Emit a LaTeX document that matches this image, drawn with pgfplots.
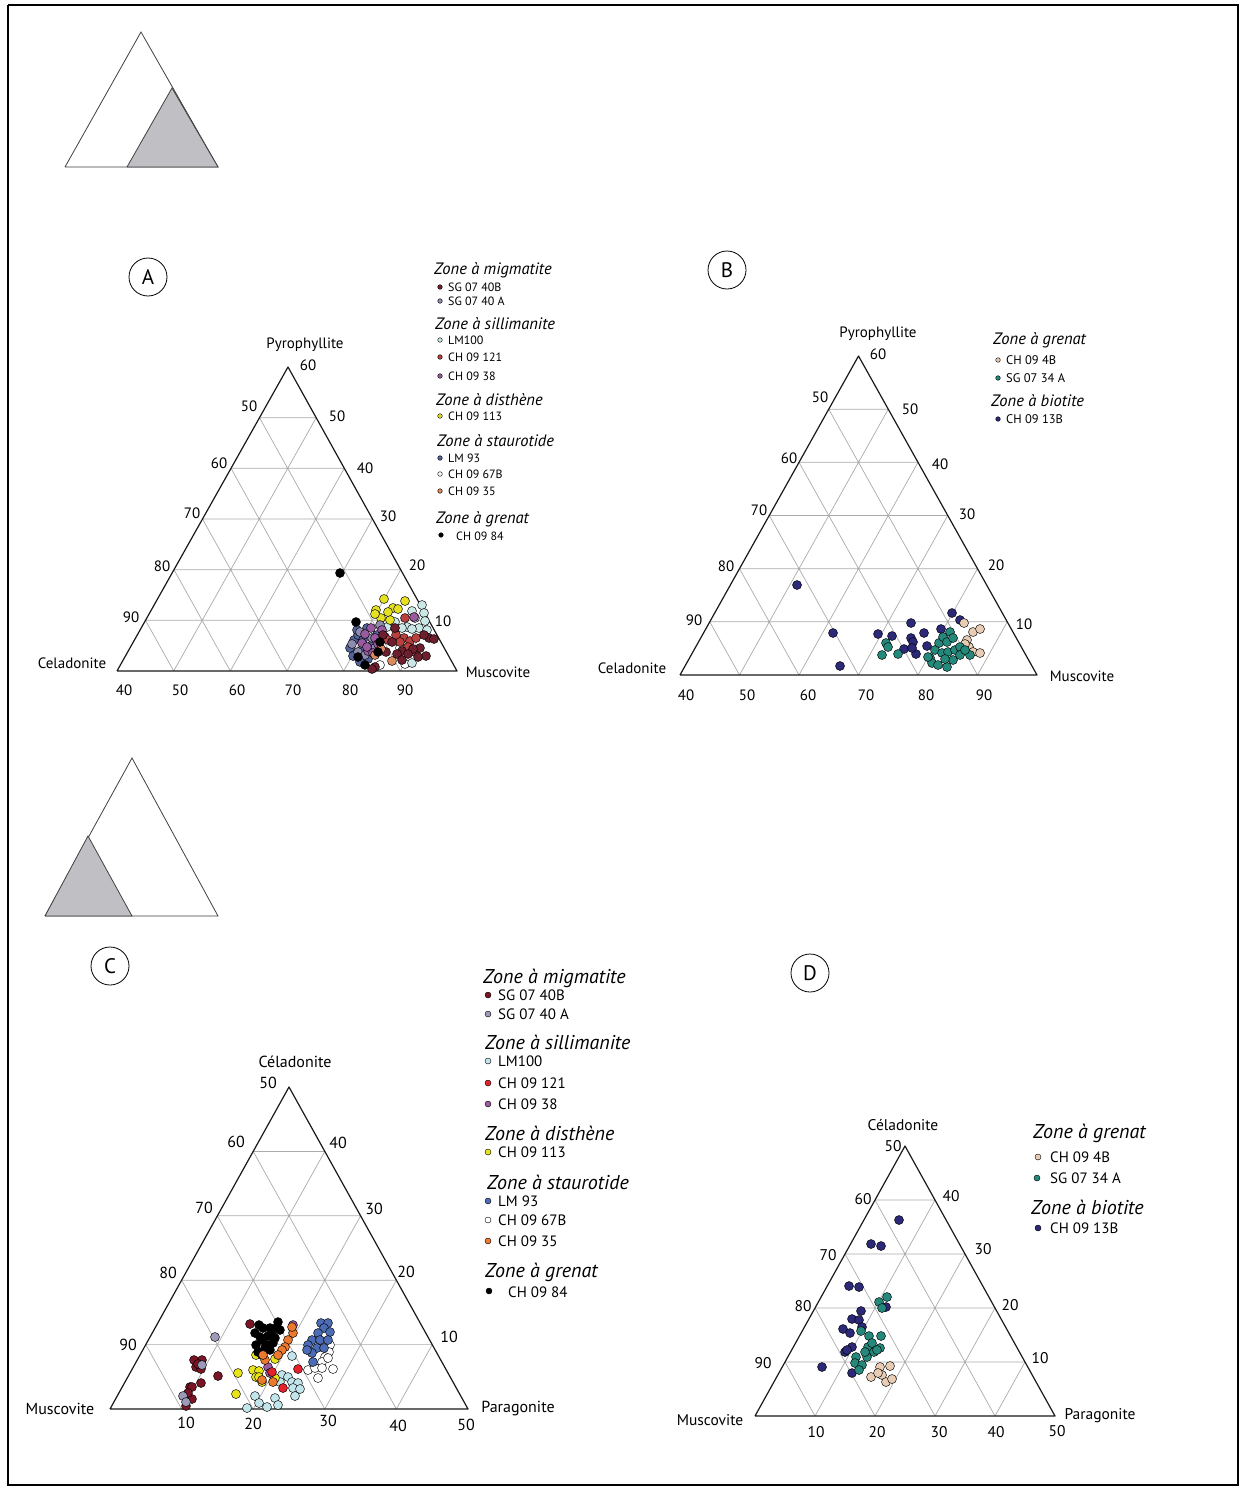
\documentclass[border=0pt]{standalone}
\usepackage{fontspec}
\setmainfont{PT Sans}
\usepackage{pgfplots}
\pgfplotsset{compat=1.18}
\newcommand\fs[1]{\fontsize{#1}{#1}\selectfont}
% panel A/C colours
\definecolor{mA}{HTML}{6E1F2E}
\definecolor{gA}{HTML}{8E8BAE}
\definecolor{cyA}{HTML}{CBE7E6}
\definecolor{rA}{HTML}{B8413F}
\definecolor{pA}{HTML}{9A5AA0}
\definecolor{yA}{HTML}{E5E022}
\definecolor{bA}{HTML}{55639C}
\definecolor{oA}{HTML}{D98A5E}
\definecolor{mC}{HTML}{7A1525}
\definecolor{gC}{HTML}{9C9AB8}
\definecolor{cyC}{HTML}{C2E5EC}
\definecolor{rC}{HTML}{E3222D}
\definecolor{pC}{HTML}{9B5B9C}
\definecolor{yC}{HTML}{E9E41A}
\definecolor{bC}{HTML}{4D6CB6}
\definecolor{oC}{HTML}{EC7A2E}
\definecolor{beige}{HTML}{E8CDB4}
\definecolor{teal2}{HTML}{24897B}
\definecolor{navy2}{HTML}{2C2978}
\definecolor{gridc}{HTML}{ABABAB}
\definecolor{iconc}{HTML}{C0C0C4}
\pgfplotsset{
  dot/.style={only marks, mark=*, mark size=4.5pt, mark options={draw=black, line width=0.45pt, fill=#1}},
  ldot/.style={only marks, mark=*, mark size=#1, mark options={draw=black, line width=0.3pt}},
  tgrid/.style={draw=gridc, line width=0.7pt},
  tri/.style={draw=black!90, line width=1.2pt, line join=round},
}
\begin{document}
\begin{tikzpicture}
\begin{axis}[
  x=1pt, y=1pt, y dir=reverse,
  xmin=0, xmax=1246, ymin=0, ymax=1488,
  hide axis, clip=false, unbounded coords=jump,
]
\addplot[draw=none, fill=white] coordinates {(0,0)(1246,0)(1246,1488)(0,1488)(0,0)};
% frame
\addplot[draw=black, line width=2pt] coordinates {(8,5)(1238,5)(1238,1485)(8,1485)(8,5)};
% icons
\addplot[draw=black!75, fill=white, line width=0.8pt] coordinates {(65,167)(218,167)(141,32)(65,167)};
\addplot[draw=black!75, fill=iconc, line width=0.8pt] coordinates {(127,167)(218,167)(172,88)(127,167)};
\addplot[draw=black!75, fill=white, line width=0.8pt] coordinates {(45,916)(218,916)(132,758)(45,916)};
\addplot[draw=black!75, fill=iconc, line width=0.8pt] coordinates {(45,916)(132,916)(88,836)(45,916)};
% circled letters
\node[draw, circle, minimum size=38pt, inner sep=0pt, line width=0.8pt, font=\fs{21}] at (axis cs:148,277) {A};
\node[draw, circle, minimum size=38pt, inner sep=0pt, line width=0.8pt, font=\fs{21}] at (axis cs:727,270) {B};
\node[draw, circle, minimum size=38pt, inner sep=0pt, line width=0.8pt, font=\fs{21}] at (axis cs:110,966) {C};
\node[draw, circle, minimum size=38pt, inner sep=0pt, line width=0.8pt, font=\fs{21}] at (axis cs:810,973) {D};

%================ PANEL A =================
\addplot[tgrid] coordinates {
(145.5,620.3)(428.8,620.3) (nan,nan)
(174,569.7)(400.7,569.7) (nan,nan)
(202.5,519)(372.5,519) (nan,nan)
(231,468.3)(344.3,468.3) (nan,nan)
(259.5,417.7)(316.2,417.7) (nan,nan)
(173.7,671)(316.2,417.7) (nan,nan)
(230.3,671)(344.3,468.3) (nan,nan)
(287,671)(372.5,519) (nan,nan)
(343.7,671)(400.7,569.7) (nan,nan)
(400.3,671)(428.8,620.3) (nan,nan)
(400.3,671)(259.5,417.7) (nan,nan)
(343.7,671)(231,468.3) (nan,nan)
(287,671)(202.5,519) (nan,nan)
(230.3,671)(174,569.7) (nan,nan)
(173.7,671)(145.5,620.3)
};
\addplot[tri] coordinates {(117,671)(457,671)(288,367)(117,671)};
\begin{scope}[every node/.style={font=\fs{15}}]
\node at (axis cs:305,345) {Pyrophyllite};
\node at (axis cs:308,365) {60};
\node at (axis cs:249,406) {50};
\node at (axis cs:219,463) {60};
\node at (axis cs:192,513) {70};
\node at (axis cs:162,566) {80};
\node at (axis cs:131,617) {90};
\node at (axis cs:337,416) {50};
\node at (axis cs:365,468) {40};
\node at (axis cs:388,516) {30};
\node at (axis cs:417,565) {20};
\node at (axis cs:443,621) {10};
\node at (axis cs:124,690) {40};
\node at (axis cs:180,690) {50};
\node at (axis cs:237,690) {60};
\node at (axis cs:293,690) {70};
\node at (axis cs:350,690) {80};
\node at (axis cs:405,690) {90};
\node at (axis cs:72,663) {Celadonite};
\node at (axis cs:498,672) {Muscovite};
\end{scope}
% data A
\addplot[dot=white] coordinates {(380,665)(405,664)(400,648)};
\addplot[dot=cyA] coordinates {(412,611)(422,605)(424,613)(415,618)(425,621)(419,628)(407,627)(412,629)(427,630)(387,627)(395,622)(412,663)(402,628)};
\addplot[dot=yA] coordinates {(384,599)(405,601)(376,610)(393,608)(398,609)(381,618)(390,620)(388,612)(375,614)};
\addplot[dot=bA] coordinates {(350,648)(354,640)(353,656)(362,650)(368,659)(358,635)(372,645)(363,640)(360,662)(357,630)(377,635)(367,628)};
\addplot[dot=gA] coordinates {(352,644)(358,652)(372,638)(365,655)(375,648)(380,625)(360,632)};
\addplot[dot=pA] coordinates {(371,628)(365,634)(375,638)(362,643)(378,644)(368,651)(382,630)(373,653)(385,637)(367,647)(414,617)};
\addplot[dot=rA] coordinates {(405,618)(404,638)(410,641)(396,635)(408,647)(416,638)(388,640)(400,642)(415,652)};
\addplot[dot=mA] coordinates {(429,638)(434,639)(424,635)(420,648)(413,649)(402,651)(408,654)(426,656)(418,657)(392,642)(397,654)(375,667)(372,669)(386,652)(402,660)(395,628)(383,635)};
\addplot[dot=oA] coordinates {(392,661)(381,649)(375,655)};
\addplot[dot=black] coordinates {(340,573)(356,622)(358,657)(378,652)(365,665)(380,642)};
% legend A
\begin{scope}[every node/.style={anchor=west, inner sep=0pt}]
\node[font=\fs{16.5}\itshape] at (axis cs:434,270) {Zone à migmatite};
\node[font=\fs{16.5}\itshape] at (axis cs:435,324) {Zone à sillimanite};
\node[font=\fs{16.5}\itshape] at (axis cs:436,400) {Zone à disthène};
\node[font=\fs{16.5}\itshape] at (axis cs:437,441) {Zone à staurotide};
\node[font=\fs{16.5}\itshape] at (axis cs:436,519) {Zone à grenat};
\node[font=\fs{12}] at (axis cs:448,287) {SG 07 40B};
\node[font=\fs{12}] at (axis cs:448,301) {SG 07 40 A};
\node[font=\fs{12}] at (axis cs:448,340) {LM100};
\node[font=\fs{12}] at (axis cs:448,357) {CH 09 121};
\node[font=\fs{12}] at (axis cs:448,376) {CH 09 38};
\node[font=\fs{12}] at (axis cs:448,416) {CH 09 113};
\node[font=\fs{12}] at (axis cs:448,458) {LM 93};
\node[font=\fs{12}] at (axis cs:448,474) {CH 09 67B};
\node[font=\fs{12}] at (axis cs:448,491) {CH 09 35};
\node[font=\fs{12}] at (axis cs:456,536) {CH 09 84};
\end{scope}
\addplot[ldot=2.3pt, mark options={fill=mA}] coordinates {(440,287)};
\addplot[ldot=2.3pt, mark options={fill=gA}] coordinates {(440,301)};
\addplot[ldot=2.3pt, mark options={fill=cyA}] coordinates {(440,340)};
\addplot[ldot=2.3pt, mark options={fill=rA}] coordinates {(440,357)};
\addplot[ldot=2.3pt, mark options={fill=pA}] coordinates {(440,376)};
\addplot[ldot=2.3pt, mark options={fill=yA}] coordinates {(440,416)};
\addplot[ldot=2.3pt, mark options={fill=bA}] coordinates {(440,458)};
\addplot[ldot=2.3pt, mark options={fill=white}] coordinates {(440,474)};
\addplot[ldot=2.3pt, mark options={fill=oA}] coordinates {(440,491)};
\addplot[ldot=2.3pt, mark options={fill=black}] coordinates {(441,535)};

%================ PANEL B =================
\addplot[tgrid] coordinates {
(709.75,621.8)(1007.25,621.8) (nan,nan)
(739.5,568.7)(977.5,568.7) (nan,nan)
(769.25,515.5)(947.75,515.5) (nan,nan)
(799,462.3)(918,462.3) (nan,nan)
(828.75,409.2)(888.25,409.2) (nan,nan)
(739.5,675)(888.25,409.2) (nan,nan)
(799,675)(918,462.3) (nan,nan)
(858.5,675)(947.75,515.5) (nan,nan)
(918,675)(977.5,568.7) (nan,nan)
(977.5,675)(1007.25,621.8) (nan,nan)
(977.5,675)(828.75,409.2) (nan,nan)
(918,675)(799,462.3) (nan,nan)
(858.5,675)(769.25,515.5) (nan,nan)
(799,675)(739.5,568.7) (nan,nan)
(739.5,675)(709.75,621.8)
};
\addplot[tri] coordinates {(680,675)(1037,675)(858.5,356)(680,675)};
\begin{scope}[every node/.style={font=\fs{15}}]
\node at (axis cs:878,334) {Pyrophyllite};
\node at (axis cs:878,354) {60};
\node at (axis cs:820,397) {50};
\node at (axis cs:789,458) {60};
\node at (axis cs:759,510) {70};
\node at (axis cs:726,566) {80};
\node at (axis cs:694,620) {90};
\node at (axis cs:910,409) {50};
\node at (axis cs:940,464) {40};
\node at (axis cs:967,514) {30};
\node at (axis cs:996,565) {20};
\node at (axis cs:1024,624) {10};
\node at (axis cs:686,695) {40};
\node at (axis cs:747,695) {50};
\node at (axis cs:808,695) {60};
\node at (axis cs:866,695) {70};
\node at (axis cs:926,695) {80};
\node at (axis cs:984,695) {90};
\node at (axis cs:632,668) {Celadonite};
\node at (axis cs:1082,676) {Muscovite};
\end{scope}
\addplot[dot=navy2] coordinates {(797,585)(833,633)(840,666)(878,634)(892,636)(911,623)(911,638)(913,642)(924,633)(927,646)(904,649)(916,654)(941,629)(952,613)(960,620)(912,648)};
\addplot[dot=beige] coordinates {(964,623)(973,632)(980,629)(967,640)(969,647)(973,652)(980,653)(965,644)};
\addplot[dot=teal2] coordinates {(886,643)(888,647)(882,655)(898,654)(930,658)(935,650)(939,643)(943,637)(950,632)(947,642)(953,638)(942,653)(948,652)(955,650)(960,647)(932,663)(938,665)(947,667)(953,660)(960,655)(970,655)(965,650)(928,657)(945,659)};
\begin{scope}[every node/.style={anchor=west, inner sep=0pt}]
\node[font=\fs{16.5}\itshape] at (axis cs:993,340) {Zone à grenat};
\node[font=\fs{16.5}\itshape] at (axis cs:991,401) {Zone à biotite};
\node[font=\fs{12.5}] at (axis cs:1006,360) {CH 09 4B};
\node[font=\fs{12.5}] at (axis cs:1006,378) {SG 07 34 A};
\node[font=\fs{12.5}] at (axis cs:1006,419) {CH 09 13B};
\end{scope}
\addplot[ldot=2.3pt, mark options={fill=beige}] coordinates {(998,360)};
\addplot[ldot=2.3pt, mark options={fill=teal2}] coordinates {(998,378)};
\addplot[ldot=2.3pt, mark options={fill=navy2}] coordinates {(998,419)};

%================ PANEL C =================
\addplot[tgrid] coordinates {
(145.8,1344.6)(432.2,1344.6) (nan,nan)
(181.6,1280.2)(396.4,1280.2) (nan,nan)
(217.4,1215.8)(360.6,1215.8) (nan,nan)
(253.2,1151.4)(324.8,1151.4) (nan,nan)
(181.6,1409)(324.8,1151.4) (nan,nan)
(253.2,1409)(360.6,1215.8) (nan,nan)
(324.8,1409)(396.4,1280.2) (nan,nan)
(396.4,1409)(432.2,1344.6) (nan,nan)
(396.4,1409)(253.2,1151.4) (nan,nan)
(324.8,1409)(217.4,1215.8) (nan,nan)
(253.2,1409)(181.6,1280.2) (nan,nan)
(181.6,1409)(145.8,1344.6)
};
\addplot[tri] coordinates {(110,1409)(468,1409)(289,1087)(110,1409)};
\begin{scope}[every node/.style={font=\fs{16}}]
\node at (axis cs:295,1062) {Céladonite};
\node at (axis cs:268,1083) {50};
\node at (axis cs:236,1142) {60};
\node at (axis cs:204,1208) {70};
\node at (axis cs:168,1273) {80};
\node at (axis cs:128,1345) {90};
\node at (axis cs:338,1143) {40};
\node at (axis cs:374,1209) {30};
\node at (axis cs:406,1272) {20};
\node at (axis cs:449,1337) {10};
\node at (axis cs:186,1423) {10};
\node at (axis cs:253,1424) {20};
\node at (axis cs:328,1421) {30};
\node at (axis cs:398,1426) {40};
\node at (axis cs:466,1425) {50};
\node at (axis cs:60,1409) {Muscovite};
\node at (axis cs:518,1409) {Paragonite};
\end{scope}
\addplot[dot=white] coordinates {(330,1345)(329,1352)(325,1357)(322,1362)(333,1369)(308,1370)(315,1368)(322,1368)(318,1378)(328,1358)};
\addplot[dot=cyC] coordinates {(292,1356)(282,1375)(288,1377)(292,1382)(298,1383)(293,1388)(300,1389)(295,1396)(275,1398)(278,1405)(267,1407)(255,1396)(259,1403)(247,1408)(280,1382)};
\addplot[dot=mC] coordinates {(250,1324)(194,1360)(202,1360)(196,1367)(201,1369)(218,1376)(201,1383)(190,1387)(192,1387)(192,1399)(186,1406)(188,1393)(198,1364)};
\addplot[dot=gC] coordinates {(215,1337)(202,1365)(183,1396)(186,1402)};
\addplot[dot=yC] coordinates {(238,1373)(236,1394)(253,1370)(259,1371)(256,1377)(259,1377)(275,1378)(275,1359)(256,1355)(262,1382)};
\addplot[dot=black] coordinates {(255,1333)(263,1328)(278,1322)(280,1330)(272,1334)(262,1340)(267,1345)(270,1350)(258,1352)(273,1343)(260,1337)(275,1338)(265,1348)(268,1336)(256,1345)(277,1327)(262,1355)(259,1325)(270,1328)};
\addplot[dot=pC] coordinates {(293,1325)(268,1367)(270,1373)};
\addplot[dot=oC] coordinates {(293,1333)(288,1340)(285,1347)(282,1350)(278,1355)(265,1360)(263,1355)(262,1380)(273,1382)(292,1327)};
\addplot[dot=rC] coordinates {(272,1372)(298,1369)(283,1388)};
\addplot[dot=bC] coordinates {(321,1323)(328,1323)(324,1328)(330,1332)(318,1333)(312,1340)(320,1340)(328,1340)(308,1345)(317,1348)(324,1348)(312,1353)(313,1362)(307,1350)};
\begin{scope}[every node/.style={anchor=west, inner sep=0pt}]
\node[font=\fs{20}\itshape] at (axis cs:483,978) {Zone à migmatite};
\node[font=\fs{20}\itshape] at (axis cs:485,1042) {Zone à sillimanite};
\node[font=\fs{20}\itshape] at (axis cs:485,1133) {Zone à disthène};
\node[font=\fs{20}\itshape] at (axis cs:487,1182) {Zone à staurotide};
\node[font=\fs{20}\itshape] at (axis cs:485,1272) {Zone à grenat};
\node[font=\fs{15}] at (axis cs:498,995) {SG 07 40B};
\node[font=\fs{15}] at (axis cs:498,1014) {SG 07 40 A};
\node[font=\fs{15}] at (axis cs:498,1061) {LM100};
\node[font=\fs{15}] at (axis cs:498,1083) {CH 09 121};
\node[font=\fs{15}] at (axis cs:498,1104) {CH 09 38};
\node[font=\fs{15}] at (axis cs:498,1152) {CH 09 113};
\node[font=\fs{15}] at (axis cs:498,1201) {LM 93};
\node[font=\fs{15}] at (axis cs:498,1220) {CH 09 67B};
\node[font=\fs{15}] at (axis cs:498,1241) {CH 09 35};
\node[font=\fs{15}] at (axis cs:508,1292) {CH 09 84};
\end{scope}
\addplot[ldot=3pt, mark options={fill=mC}] coordinates {(488,995)};
\addplot[ldot=3pt, mark options={fill=gC}] coordinates {(488,1014)};
\addplot[ldot=3pt, mark options={fill=cyC}] coordinates {(488,1061)};
\addplot[ldot=3pt, mark options={fill=rC}] coordinates {(488,1083)};
\addplot[ldot=3pt, mark options={fill=pC}] coordinates {(488,1104)};
\addplot[ldot=3pt, mark options={fill=yC}] coordinates {(488,1152)};
\addplot[ldot=3pt, mark options={fill=bC}] coordinates {(488,1201)};
\addplot[ldot=3pt, mark options={fill=white}] coordinates {(488,1220)};
\addplot[ldot=3pt, mark options={fill=oC}] coordinates {(488,1241)};
\addplot[ldot=3pt, mark options={fill=black}] coordinates {(489,1291)};

%================ PANEL D =================
\addplot[tgrid] coordinates {
(785,1362)(1025,1362) (nan,nan)
(815,1308)(995,1308) (nan,nan)
(845,1254)(965,1254) (nan,nan)
(875,1200)(935,1200) (nan,nan)
(815,1416)(935,1200) (nan,nan)
(875,1416)(965,1254) (nan,nan)
(935,1416)(995,1308) (nan,nan)
(995,1416)(1025,1362) (nan,nan)
(995,1416)(875,1200) (nan,nan)
(935,1416)(845,1254) (nan,nan)
(875,1416)(815,1308) (nan,nan)
(815,1416)(785,1362)
};
\addplot[tri] coordinates {(755,1416)(1055,1416)(905,1146)(755,1416)};
\begin{scope}[every node/.style={font=\fs{15.5}}]
\node at (axis cs:903,1125) {Céladonite};
\node at (axis cs:893,1146) {50};
\node at (axis cs:863,1199) {60};
\node at (axis cs:828,1255) {70};
\node at (axis cs:803,1306) {80};
\node at (axis cs:763,1363) {90};
\node at (axis cs:951,1196) {40};
\node at (axis cs:983,1249) {30};
\node at (axis cs:1010,1305) {20};
\node at (axis cs:1040,1358) {10};
\node at (axis cs:816,1432) {10};
\node at (axis cs:877,1432) {20};
\node at (axis cs:939,1432) {30};
\node at (axis cs:996,1432) {40};
\node at (axis cs:1057,1431) {50};
\node at (axis cs:710,1420) {Muscovite};
\node at (axis cs:1100,1416) {Paragonite};
\end{scope}
\addplot[dot=navy2] coordinates {(899,1220)(871,1244)(881,1246)(849,1286)(859,1287)(861,1311)(852,1319)(859,1320)(843,1329)(850,1333)(862,1327)(852,1347)(845,1352)(822,1367)(852,1373)(886,1307)(847,1350)};
\addplot[dot=teal2] coordinates {(879,1302)(887,1297)(882,1308)(861,1331)(869,1336)(881,1336)(880,1348)(868,1347)(874,1352)(867,1357)(856,1357)(855,1363)(862,1365)(859,1370)(872,1343)(877,1350)(865,1352)};
\addplot[dot=beige] coordinates {(880,1367)(890,1366)(871,1377)(882,1375)(886,1382)(892,1379)(878,1373)};
\begin{scope}[every node/.style={anchor=west, inner sep=0pt}]
\node[font=\fs{20}\itshape] at (axis cs:1033,1133) {Zone à grenat};
\node[font=\fs{20}\itshape] at (axis cs:1031,1207) {Zone à biotite};
\node[font=\fs{15}] at (axis cs:1050,1157) {CH 09 4B};
\node[font=\fs{15}] at (axis cs:1050,1178) {SG 07 34 A};
\node[font=\fs{15}] at (axis cs:1050,1228) {CH 09 13B};
\end{scope}
\addplot[ldot=3pt, mark options={fill=beige}] coordinates {(1038,1157)};
\addplot[ldot=3pt, mark options={fill=teal2}] coordinates {(1037,1178)};
\addplot[ldot=3pt, mark options={fill=navy2}] coordinates {(1038,1228)};
\end{axis}
\end{tikzpicture}
\end{document}
